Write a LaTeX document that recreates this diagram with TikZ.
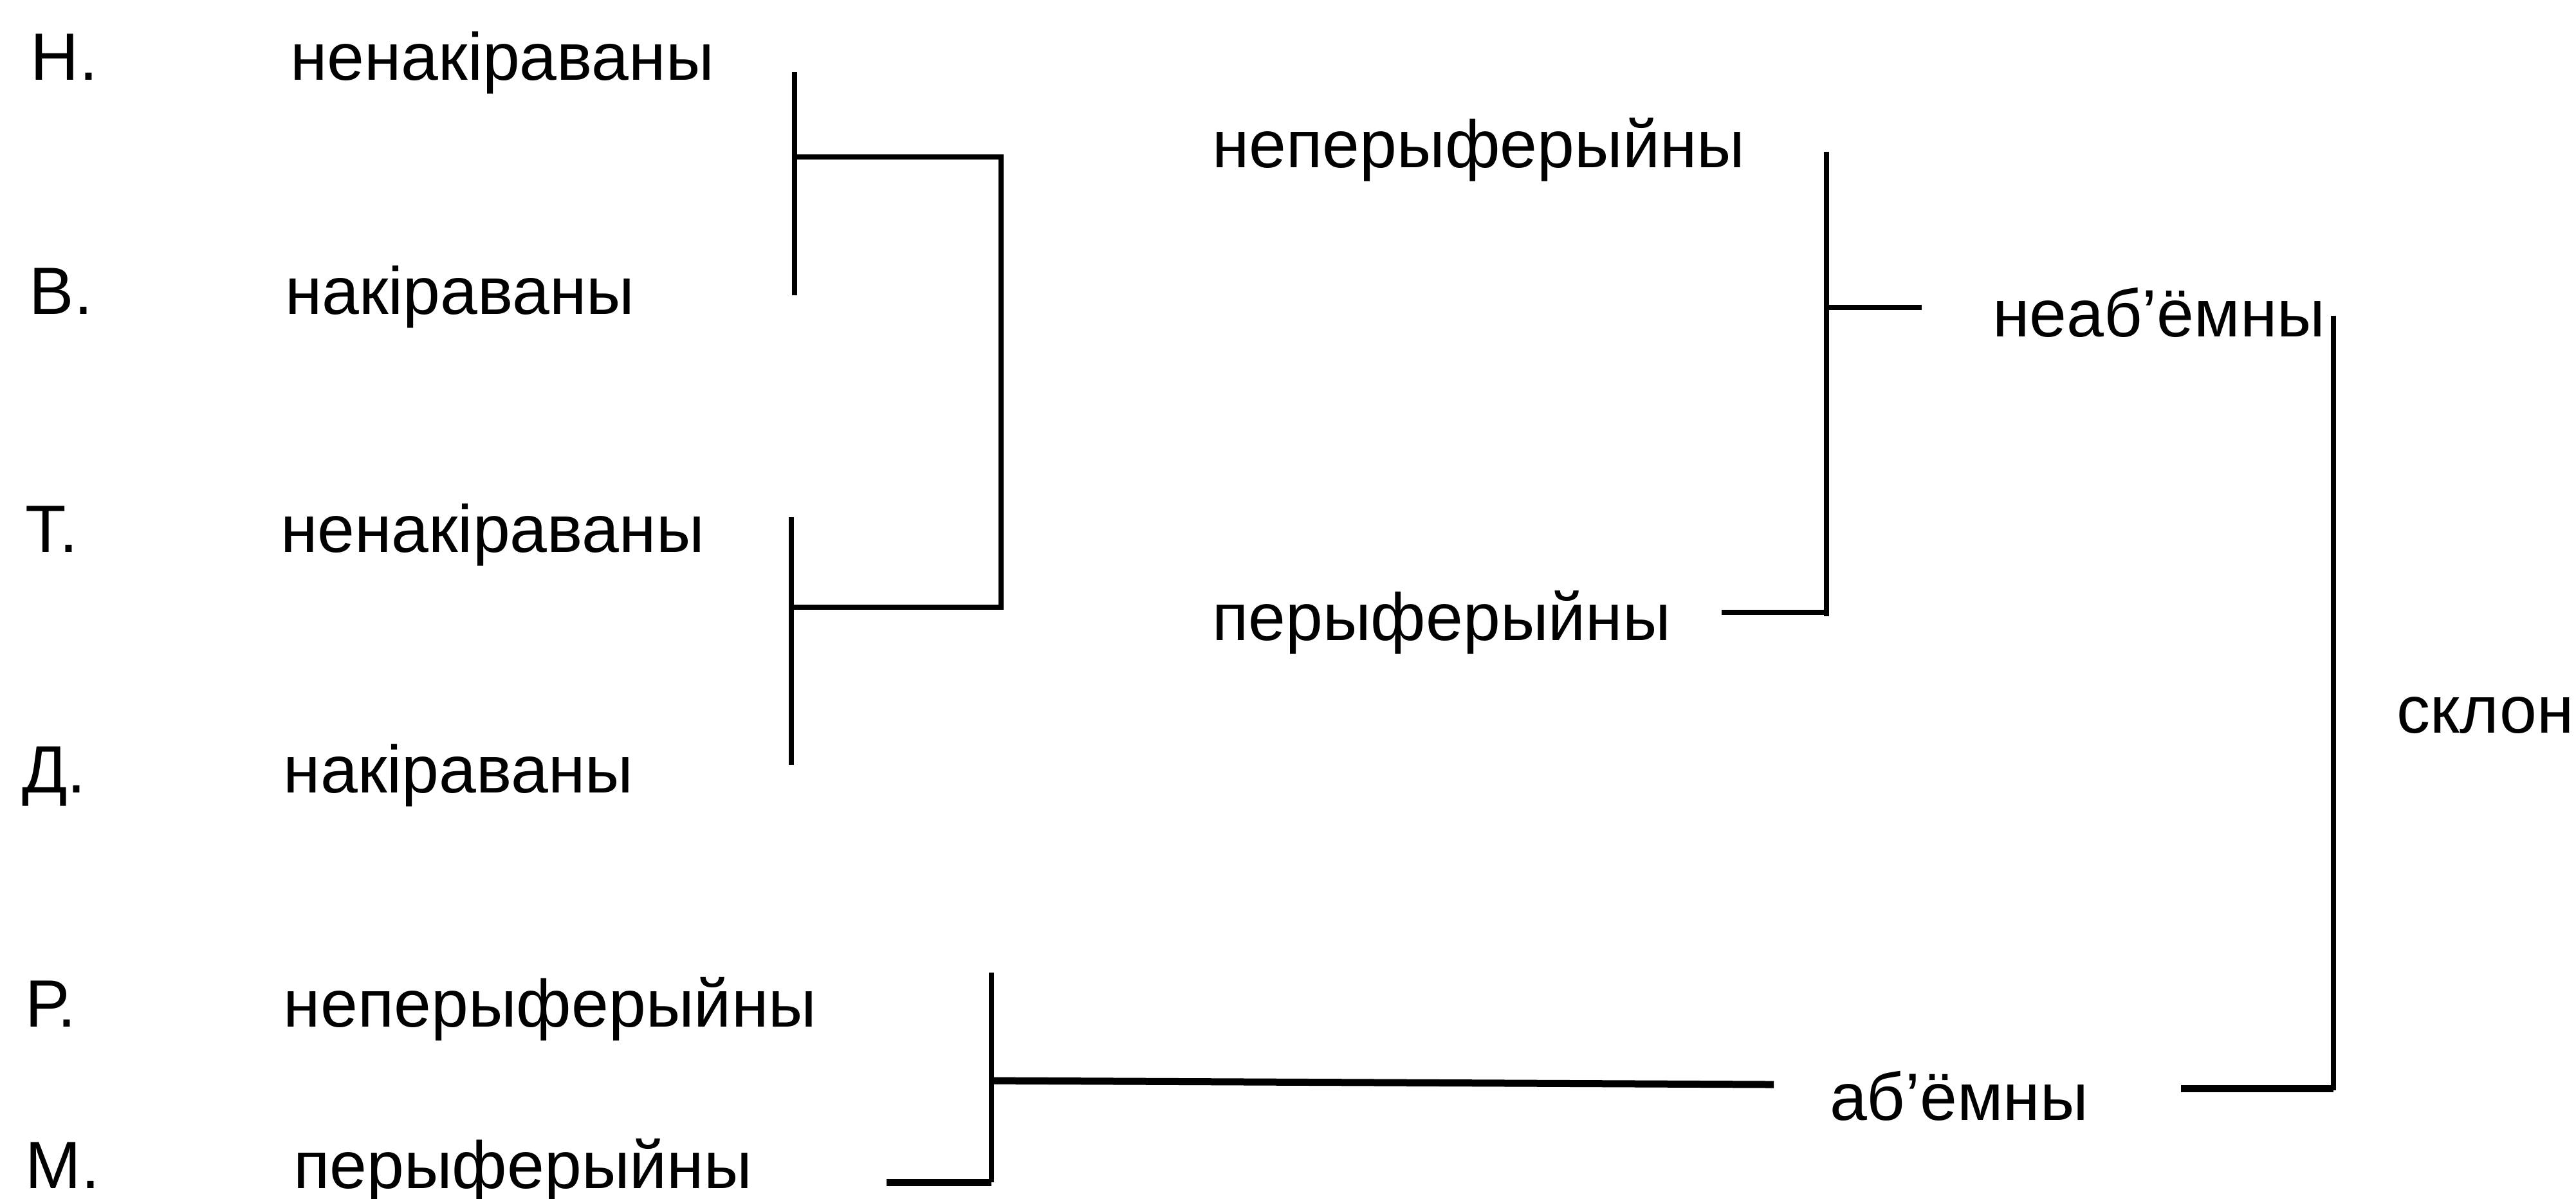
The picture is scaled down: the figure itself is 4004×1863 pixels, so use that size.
\documentclass[tikz,border=0pt]{standalone}
\usepackage{fontspec}
\setmainfont{Liberation Sans}
\begin{document}
\begin{tikzpicture}[x=0.1pt,y=-0.1pt,
  lbl/.style={anchor=base west,inner sep=0pt,font=\fontsize{10.4pt}{12pt}\selectfont},
  brk/.style={line width=0.85pt,line cap=butt},
  heavy/.style={line width=1.1pt}]
\useasboundingbox (0,0) rectangle (4004,1863);

% case letters
\node[lbl] (cN) at (46,124)  {Н.};
\node[lbl] (cV) at (44,488)  {В.};
\node[lbl] (cT) at (38,858)  {Т.};
\node[lbl] (cD) at (32,1232) {Д.};
\node[lbl] (cR) at (38,1596) {Р.};
\node[lbl] (cM) at (38,1847) {М.};

% first column of features
\node[lbl] (wN) at (449,124)  {ненакіраваны};
\node[lbl] (wV) at (441,488)  {накіраваны};
\node[lbl] (wT) at (434,858)  {ненакіраваны};
\node[lbl] (wD) at (439,1232) {накіраваны};
\node[lbl] (wR) at (439,1596) {неперыферыйны};
\node[lbl] (wM) at (454,1847) {перыферыйны};

% second column
\node[lbl] (nper) at (1882,260) {неперыферыйны};
\node[lbl] (per)  at (1882,995) {перыферыйны};

% third column
\node[lbl] (nvol) at (3095,523)  {неаб’ёмны};
\node[lbl] (vol)  at (2842,1741) {аб’ёмны};

% root
\node[lbl] (skl) at (3723,1139) {склон};

% bracket points
\coordinate (a1) at (1235,112);
\coordinate (a2) at (1235,459);
\coordinate (a3) at (1235,244);
\coordinate (a4) at (1556,244);
\coordinate (b1) at (1230,804);
\coordinate (b2) at (1230,1189);
\coordinate (b3) at (1230,944);
\coordinate (b4) at (1556,944);

\coordinate (c1) at (2839,236);
\coordinate (c2) at (2839,958);
\coordinate (c3) at (2839,478);
\coordinate (c4) at (2987,478);
\coordinate (c5) at (2676,952);

\coordinate (d1) at (1541,1512);
\coordinate (d2) at (1541,1838);
\coordinate (d3) at (1378,1838);
\coordinate (d4) at (1541,1680);
\coordinate (d5) at (2757,1686);

\coordinate (e1) at (3627,491);
\coordinate (e2) at (3627,1695);
\coordinate (e3) at (3390,1692);

% Н./В. and Т./Д. groups
\draw[brk] (a1) -- (a2);
\draw[brk] (a3) -- (a4) -- (b4) -- (b3);
\draw[brk] (b1) -- (b2);

% peripheral / non-peripheral
\draw[brk] (c1) -- (c2);
\draw[brk] (c5) -- (c2 |- c5);
\draw[brk] (c3) -- (c4);

% Р./М. group
\draw[brk] (d1) -- (d2);
\draw[brk,heavy] (d2) -- (d3);
\draw[brk,heavy] (d4) -- (d5);

% volume / non-volume
\draw[brk] (e1) -- (e2);
\draw[brk,heavy] (e3) -- (e3 -| e2);
\end{tikzpicture}
\end{document}
